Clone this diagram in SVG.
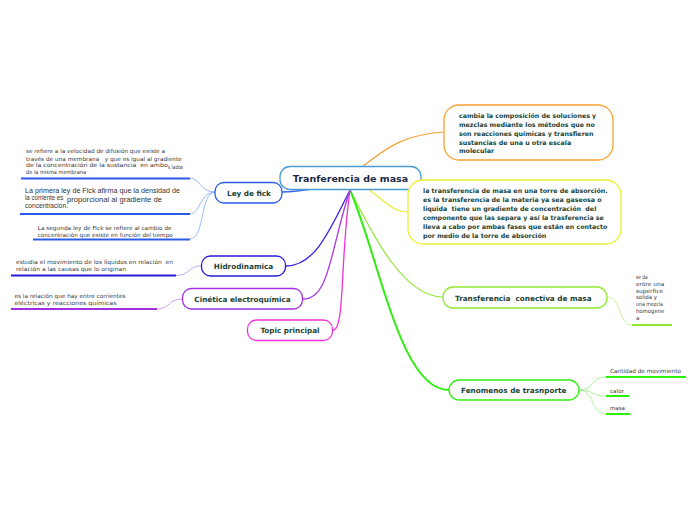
<svg xmlns="http://www.w3.org/2000/svg" width="696" height="520" viewBox="0 0 696 520">
<style>
.node{fill:#fff;stroke-width:1.3}
.nt{font-family:Verdana,"DejaVu Sans",sans-serif;font-weight:bold;font-size:7.25px;fill:#1c4436;white-space:pre}
.bt{font-family:Verdana,"DejaVu Sans",sans-serif;font-weight:bold;font-size:6.3px;fill:#1c4436;white-space:pre}
.lt{font-family:"DejaVu Sans",Verdana,sans-serif;font-size:5.6px;fill:#383838;white-space:pre}
.lt2{font-family:"Liberation Sans",Arial,sans-serif;font-size:6.6px;fill:#333;white-space:pre}
.c{fill:none}
</style>
<rect width="696" height="520" fill="#fff"/>
<g id="connectors">
<path class="c" d="M363,166 C385,150 400,135 444,132" stroke="#f8a030" stroke-width="1.2"/>
<path class="c" d="M360,184 C380,195 390,212 408,212" stroke="#eeee30" stroke-width="1.2"/>
<path class="c" d="M350,190 C375,240 405,297 443,297" stroke="#90e830" stroke-width="1.2"/>
<path class="c" d="M350,190 C380,260 400,390 449,390" stroke="#30ee10" stroke-width="2"/>
<path class="c" d="M318,188 C300,191 290,192 282,192" stroke="#3a6ae8" stroke-width="1.5"/>
<path class="c" d="M350,190 C330,230 315,266 286,266" stroke="#3a20e0" stroke-width="1.3"/>
<path class="c" d="M350,190 C330,250 330,299 303,299" stroke="#a838e8" stroke-width="1.3"/>
<path class="c" d="M350,190 C340,260 345,330 333,330" stroke="#f030d8" stroke-width="1.3"/>
<path class="c" d="M215,192 C200,192 200,178 190,178" stroke="#80a8f8" stroke-width="0.8"/>
<path class="c" d="M215,192 C200,192 200,214 190,214" stroke="#80a8f8" stroke-width="0.8"/>
<path class="c" d="M215,192 C200,192 205,239 190,239" stroke="#80a8f8" stroke-width="0.8"/>
<path d="M21,178.5H190M20,214H190M33,239.5H190" stroke="#2a5ce8" stroke-width="2"/>
<path class="c" d="M201,266 C188,266 190,275.5 176,275.5" stroke="#a898f0" stroke-width="0.8"/>
<path d="M11,275.5H176" stroke="#2a1ad8" stroke-width="2"/>
<path class="c" d="M182,299 C168,299 170,309 157,309" stroke="#c888f0" stroke-width="0.8"/>
<path d="M11,309H157" stroke="#a030e0" stroke-width="2"/>
<path class="c" d="M607,297 C622,297 618,325 632,325" stroke="#b8f080" stroke-width="0.8"/>
<path d="M632,325H672" stroke="#90e830" stroke-width="2"/>
<path class="c" d="M579,390 C595,390 590,377 606,377" stroke="#98f088" stroke-width="0.8"/>
<path class="c" d="M579,390 C595,390 590,396 606,396" stroke="#98f088" stroke-width="0.8"/>
<path class="c" d="M579,390 C595,390 590,414 606,414" stroke="#98f088" stroke-width="0.8"/>
<path d="M606,377H686M606,396H629.5M606,414H630.5" stroke="#30ee10" stroke-width="2"/>
</g>
<g id="central">
<rect class="node" x="280" y="166.5" width="141" height="23" rx="10" stroke="#4a9ad8"/>
<text x="350.5" y="182" text-anchor="middle" font-family="Verdana,'DejaVu Sans',sans-serif" font-weight="bold" font-size="9.5px" fill="#1a2a4a">Tranferencia de masa</text>
</g>
<g id="orange">
<rect class="node" x="444" y="105" width="169" height="55" rx="15" stroke="#f8a030"/>
<text class="bt"><tspan x="459" y="117.5">cambia la composición de soluciones y</tspan><tspan x="459" y="127">mezclas mediante los métodos que no</tspan><tspan x="459" y="136">son reacciones químicas y transfieren</tspan><tspan x="459" y="145">sustancias de una u otra escala</tspan><tspan x="459" y="153">molecular</tspan></text>
</g>
<g id="yellow">
<rect class="node" x="408" y="180" width="213" height="64" rx="15" stroke="#eeee30"/>
<text class="bt"><tspan x="423" y="192.5">la transferencia de masa en una torre de absorción.</tspan><tspan x="423" y="201.5">es la transferencia de la materia ya sea gaseosa o</tspan><tspan x="423" y="210.5">liquida  tiene un gradiente de concentración  del</tspan><tspan x="423" y="219.5">componente que las separa y así la trasferencia se</tspan><tspan x="423" y="228.5">lleva a cabo por ambas fases que están en contacto</tspan><tspan x="423" y="237.5">por medio de la torre de absorción</tspan></text>
</g>
<g id="conectiva">
<rect class="node" x="443" y="287" width="164" height="21" rx="10" stroke="#90e830"/>
<text class="nt" x="455" y="300.5">Transferencia  conectiva de masa</text>
<text class="lt"><tspan x="636" y="279.3" textLength="11.7" lengthAdjust="spacingAndGlyphs">se da</tspan><tspan x="636" y="286" textLength="28.3" lengthAdjust="spacingAndGlyphs">entre una</tspan><tspan x="636" y="292.7" textLength="27" lengthAdjust="spacingAndGlyphs">superfice</tspan><tspan x="636" y="299.3" textLength="21" lengthAdjust="spacingAndGlyphs">solida y</tspan><tspan x="636" y="306" textLength="27" lengthAdjust="spacingAndGlyphs">una mezcla</tspan><tspan x="636" y="312.7" textLength="28.3" lengthAdjust="spacingAndGlyphs">homogene</tspan><tspan x="636" y="319.7">a</tspan></text>
</g>
<g id="fenomenos">
<rect class="node" x="449" y="380" width="130" height="20" rx="10" stroke="#30ee10"/>
<text class="nt" x="461" y="393">Fenomenos de trasnporte</text>
<text class="lt" x="610" y="373.3" textLength="71" lengthAdjust="spacingAndGlyphs">Cantidad de movimiento</text>
<text class="lt" x="610" y="393" textLength="14" lengthAdjust="spacingAndGlyphs">calor</text>
<text class="lt" x="610" y="409.7" textLength="15" lengthAdjust="spacingAndGlyphs">masa</text>
</g>
<g id="leydefick">
<rect class="node" x="215" y="182.5" width="67" height="20.5" rx="9" stroke="#2a5ce8"/>
<text class="nt" x="249" y="195.5" text-anchor="middle">Ley de fick</text>
<text class="lt"><tspan x="26" y="153.3" textLength="139" lengthAdjust="spacingAndGlyphs">se refiere a la velocidad de difusión que existe a</tspan><tspan x="26" y="161" textLength="155.7" lengthAdjust="spacingAndGlyphs">través de una membrana   y que es igual al gradiente</tspan><tspan x="26" y="167.3" textLength="141.7" lengthAdjust="spacingAndGlyphs">de la concentración de la sustancia  en ambo</tspan><tspan x="168" y="168.6" textLength="15" lengthAdjust="spacingAndGlyphs">s lados</tspan><tspan x="26" y="174.3" textLength="60" lengthAdjust="spacingAndGlyphs">de la misma membrana</tspan></text>
<text class="lt2"><tspan x="25" y="193.3" textLength="155" lengthAdjust="spacingAndGlyphs">La primera ley de Fick afirma que la densidad de</tspan><tspan x="25" y="200.3" textLength="40" lengthAdjust="spacingAndGlyphs">la corriente es </tspan><tspan x="67" y="201.6" textLength="95" lengthAdjust="spacingAndGlyphs">proporcional al gradiente de</tspan><tspan x="25" y="208.3" textLength="43" lengthAdjust="spacingAndGlyphs">concentración.</tspan></text>
<text class="lt"><tspan x="37.7" y="229.5" textLength="134" lengthAdjust="spacingAndGlyphs">La segunda ley de Fick se refiere al cambio de</tspan><tspan x="37.7" y="236.5" textLength="135" lengthAdjust="spacingAndGlyphs">concentración que existe en función del tiempo</tspan></text>
</g>
<g id="hidrodinamica">
<rect class="node" x="201.5" y="256" width="84" height="20" rx="9" stroke="#2a1ad8"/>
<text class="nt" x="243.5" y="269" text-anchor="middle">Hidrodinamica</text>
<text class="lt"><tspan x="16" y="264.2" textLength="157" lengthAdjust="spacingAndGlyphs">estudia el movimiento de los líquidos en relación  en</tspan><tspan x="16" y="271.2" textLength="110" lengthAdjust="spacingAndGlyphs">relación a las causas que lo originan</tspan></text>
</g>
<g id="cinetica">
<rect class="node" x="182.5" y="288.5" width="120" height="20.5" rx="9" stroke="#a030e0"/>
<text class="nt" x="242.5" y="301.5" text-anchor="middle">Cinética electroquímica</text>
<text class="lt"><tspan x="14.5" y="297.6" textLength="111" lengthAdjust="spacingAndGlyphs">es la relación que hay entre corrientes</tspan><tspan x="14.5" y="305.2" textLength="102" lengthAdjust="spacingAndGlyphs">eléctricas y reacciones químicas</tspan></text>
</g>
<g id="topic">
<rect class="node" x="247.5" y="320" width="85" height="20.5" rx="9" stroke="#f030d8"/>
<text class="nt" x="290" y="333" text-anchor="middle">Topic principal</text>
</g>
</svg>
